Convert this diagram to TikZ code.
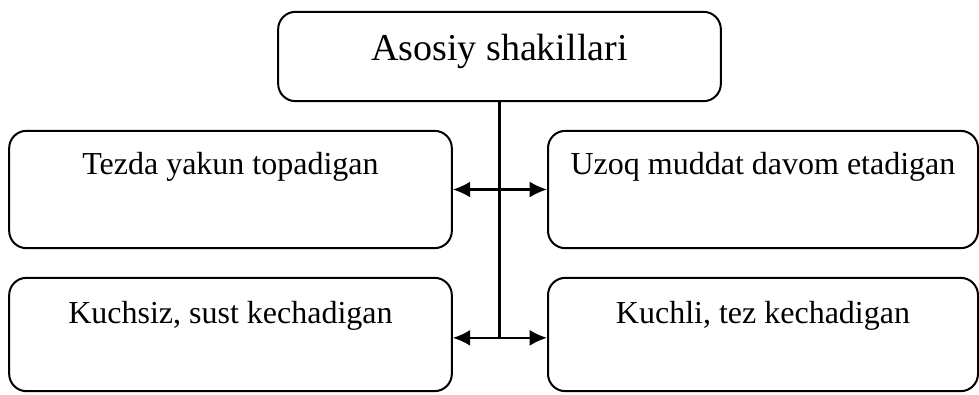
\documentclass[tikz,border=0pt]{standalone}
\usepackage{fontspec}
\setmainfont{Liberation Serif}
\usetikzlibrary{arrows.meta}
\tikzstyle{head}=[draw, line width=1.5pt, rounded corners=13pt, inner sep=0pt, minimum width=332pt, text height=36.5pt, text depth=30.5pt, font=\fontsize{28.5}{32}\selectfont]
\tikzstyle{kind}=[draw, line width=1.5pt, rounded corners=13pt, inner sep=0pt, text height=33pt, text depth=55pt, font=\fontsize{24}{28}\selectfont]

\begin{document}
\begin{tikzpicture}[x=0.75pt,y=-0.75pt,>={Latex[length=13pt,width=12pt]}]
    \useasboundingbox (0,0) rectangle (979,394);
    \node [head] (a) at (499.5,56.5) {Asosiy shakillari};
    \node [kind, minimum width=332pt] (b) at (230.5,189.5) {Tezda yakun topadigan};
    \node [kind, minimum width=322.5pt] (c) at (763,189.5) {Uzoq muddat davom etadigan};
    \node [kind, minimum width=332pt, text height=34pt, text depth=51pt] (d) at (230.5,334.5) {Kuchsiz, sust kechadigan};
    \node [kind, minimum width=322.5pt, text height=34pt, text depth=51pt] (e) at (763,334.5) {Kuchli, tez kechadigan};
    % arrows sit a little low on the second row
    \coordinate (dl) at ([yshift=-2.5pt]d.east);
    \coordinate (er) at ([yshift=-2.5pt]e.west);
    \draw[line width=1.6pt] (a.south) -- (a.south |- dl);
    \draw[<->, line width=1.6pt] (b.east) -- (c.west);
    \draw[<->, line width=1.6pt] (dl) -- (er);
\end{tikzpicture}
\end{document}
